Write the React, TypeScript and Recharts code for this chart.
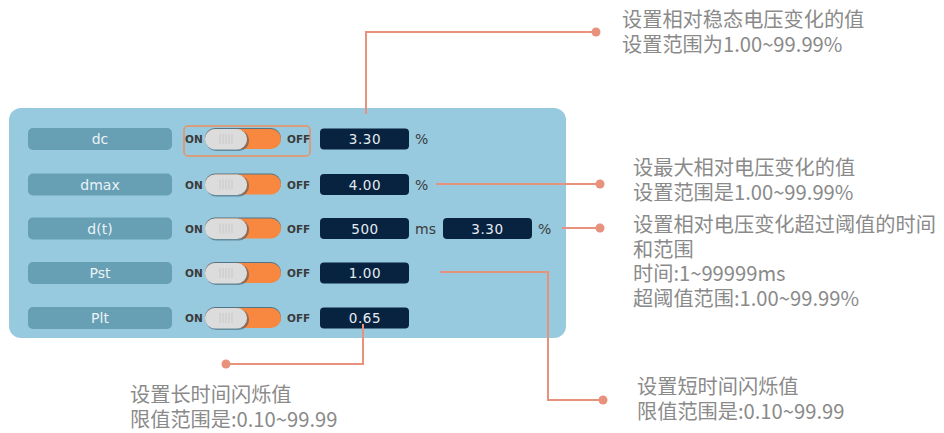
import React from 'react';
import { ComposedChart, XAxis, YAxis, ReferenceArea, ReferenceLine, ReferenceDot } from 'recharts';

// ---- content ----
const rowLabels = ['dc', 'dmax', 'd(t)', 'Pst', 'Plt'];
const rowValues = ['3.30', '4.00', '500', '1.00', '0.65'];
const rowUnits = ['%', '%', 'ms', '', ''];
const extraValues = ['', '', '3.30', '', ''];
const extraUnits = ['', '', '%', '', ''];
const switchLabels = ['ON', 'OFF'];

const noteTop = ['设置相对稳态电压变化的值', '设置范围为1.00~99.99%'];
const noteDmax = ['设最大相对电压变化的值', '设置范围是1.00~99.99%'];
const noteDt = ['设置相对电压变化超过阈值的时间', '和范围', '时间:1~99999ms', '超阈值范围:1.00~99.99%'];
const notePlt = ['设置长时间闪烁值', '限值范围是:0.10~99.99'];
const notePst = ['设置短时间闪烁值', '限值范围是:0.10~99.99'];

// ---- layout ----
const ROW_Y = [139, 184.5, 228.5, 273, 318];
const LINE_COLOR = '#E8917D';
const NOTE_FONT = '"Noto Sans CJK SC", "Noto Sans", sans-serif';
const UI_FONT = '"DejaVu Sans", sans-serif';

const rectShape = (fill: string, r: number, extra: any = {}) => (p: any) => (
  <rect x={p.x} y={p.y} width={p.width} height={p.height} rx={r} ry={r} fill={fill} {...extra} />
);

const textShape = (txt: string, style: any) => (p: any) => (
  <text x={p.cx} y={p.cy} {...style}>{txt}</text>
);

export default function App() {
  const els: any[] = [];
  let k = 0;
  const area = (x1: number, x2: number, y1: number, y2: number, shape: any) =>
    els.push(<ReferenceArea key={k++} x1={x1} x2={x2} y1={y1} y2={y2} shape={shape} ifOverflow="visible" />);
  const txt = (x: number, y: number, s: string, style: any) =>
    els.push(<ReferenceDot key={k++} x={x} y={y} r={0} shape={textShape(s, style)} ifOverflow="visible" />);
  const seg = (a: [number, number], b: [number, number], color = LINE_COLOR, w = 2) =>
    els.push(
      <ReferenceLine key={k++} segment={[{ x: a[0], y: a[1] }, { x: b[0], y: b[1] }]} stroke={color} strokeWidth={w} ifOverflow="visible" />
    );
  const dot = (x: number, y: number) =>
    els.push(<ReferenceDot key={k++} x={x} y={y} r={4.5} fill={LINE_COLOR} stroke="none" ifOverflow="visible" />);

  // panel
  area(9, 566, 108, 338, rectShape('#97CADF', 12));

  const valueStyle = { fontFamily: UI_FONT, fontSize: 13.5, fill: '#E4ECF3', textAnchor: 'middle', letterSpacing: 0.6 };
  const unitStyle = { fontFamily: UI_FONT, fontSize: 14, fill: '#3A3A3A' };
  const swStyle = { fontFamily: UI_FONT, fontSize: 10.5, fontWeight: 'bold', fill: '#3B3B3B' };

  rowLabels.forEach((lab, i) => {
    const cy = ROW_Y[i];
    area(28, 172, cy - 11, cy + 11, rectShape('#679FB4', 5));
    txt(100, cy + 5, lab, { fontFamily: UI_FONT, fontSize: 14, fill: '#EAF3F7', textAnchor: 'middle' });

    // switch
    txt(185, cy + 4, switchLabels[0], swStyle);
    area(205, 281, cy - 11, cy + 9, rectShape('#34505E', 10, { opacity: 0.7 }));
    area(205, 281, cy - 10, cy + 10, rectShape('#F8873F', 10));
    area(206, 249, cy - 9, cy + 12, rectShape('#3C5562', 10, { opacity: 0.55 }));
    area(205, 247, cy - 10, cy + 10.5, rectShape('#DCDCDC', 10));
    [220, 223, 226, 229, 232].forEach((gx) => seg([gx, cy - 5], [gx, cy + 5], '#C8C8C8', 1));
    txt(287, cy + 4, switchLabels[1], swStyle);

    // value box
    area(320, 409, cy - 10.5, cy + 10.5, rectShape('#08233F', 4));
    txt(365, cy + 5, rowValues[i], valueStyle);
    if (rowUnits[i]) txt(415, cy + 5, rowUnits[i], unitStyle);
    if (extraValues[i]) {
      area(443, 532, cy - 10.5, cy + 10.5, rectShape('#08233F', 4));
      txt(487.5, cy + 5, extraValues[i], valueStyle);
    }
    if (extraUnits[i]) txt(538, cy + 5, extraUnits[i], unitStyle);
  });

  // highlight around dc switch
  area(184, 310, 126, 156, rectShape('none', 4, { stroke: '#EE8F5C', strokeWidth: 1.5 }));

  // leader lines
  seg([366, 114], [366, 32]);
  seg([365, 32], [596, 32]);
  dot(596, 32);
  seg([436, 184], [600, 184]);
  dot(600, 184);
  seg([562, 228], [600, 228]);
  dot(600, 228);
  seg([440, 272], [549, 272]);
  seg([548, 271], [548, 400]);
  seg([547, 400], [603, 400]);
  dot(603, 400);
  seg([363, 324], [363, 365]);
  seg([364, 364], [226, 364]);
  dot(226, 364);

  const noteStyle = { fontFamily: NOTE_FONT, fontSize: 20.2, fill: '#8A8A8A' };
  const notes: [string[], number, number][] = [
    [noteTop, 622, 27],
    [noteDmax, 633, 175],
    [noteDt, 633, 232],
    [notePlt, 130, 402],
    [notePst, 637, 394],
  ];
  notes.forEach(([lines, x, y]) => {
    lines.forEach((s, j) => txt(x, y + j * 24.5, s, noteStyle));
  });

  return (
    <ComposedChart width={944} height={433} data={[{ x: 8, y: 8 }]} margin={{ top: 0, right: 0, bottom: 0, left: 0 }}>
      <XAxis type="number" dataKey="x" domain={[8, 952]} allowDataOverflow hide height={0} />
      <YAxis type="number" dataKey="y" domain={[8, 441]} allowDataOverflow reversed hide width={0} />
      {els}
    </ComposedChart>
  );
}
